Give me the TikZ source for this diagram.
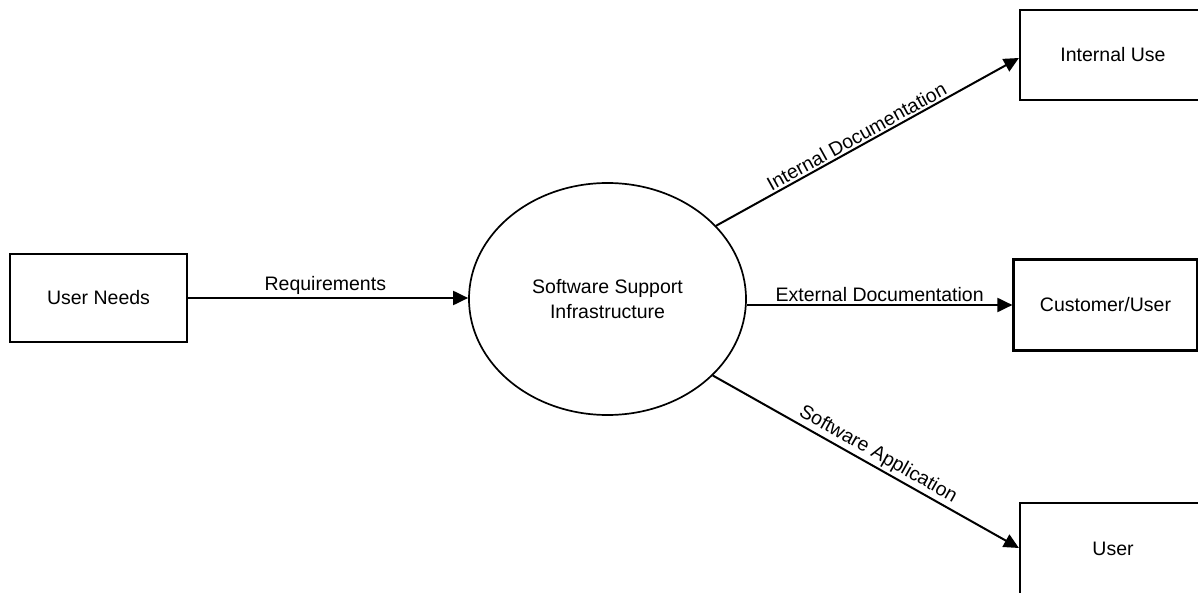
\documentclass[tikz,border=0pt]{standalone}
\usepackage{fontspec}
\setmainfont{Liberation Sans}
\usetikzlibrary{arrows.meta,shapes.geometric}
\begin{document}
\begin{tikzpicture}[x=1pt,y=-1pt,
  every node/.style={font=\fontsize{19.5}{23}\selectfont},
  entity/.style={draw,line width=2.2pt,minimum width=177pt,minimum height=88pt,inner sep=0pt},
  process/.style={draw,ellipse,line width=1.7pt,minimum width=277pt,minimum height=232pt,inner sep=0pt,align=center},
  flow/.style={line width=2pt,-{Triangle[length=15pt,width=14pt]}},
  lbl/.style={inner sep=2pt}]
\useasboundingbox (0,0) rectangle (1198,593);
\clip (0,0) rectangle (1198,593);

% external entities and the central process
\node[entity] (needs) at (98.5,298) {User Needs};
\node[process] (ssi) at (607.5,299) {Software Support\\[2pt]Infrastructure};
\node[entity,minimum width=186pt,minimum height=90pt] (internal) at (1113,55) {Internal Use};
\node[entity,minimum width=184pt,minimum height=91pt] (customer) at (1105.5,305) {Customer/User};
\node[entity,minimum width=186pt,minimum height=92pt] (user) at (1113,549) {User};

% data flows
\draw[flow] (needs.east) -- node[lbl,above,pos=0.49] {Requirements} (ssi.west |- needs.east);
\draw[flow] (ssi.34.5) -- node[lbl,sloped,above,pos=0.48] {Internal Documentation} (internal.west |- 0,58);
\draw[flow] (ssi.east |- customer.west) -- node[lbl,above,pos=0.5] {External Documentation} (customer.west);
\draw[flow] (ssi.-36.5) -- node[lbl,sloped,above,pos=0.52] {Software Application} (user.west |- 0,548);
\end{tikzpicture}
\end{document}
